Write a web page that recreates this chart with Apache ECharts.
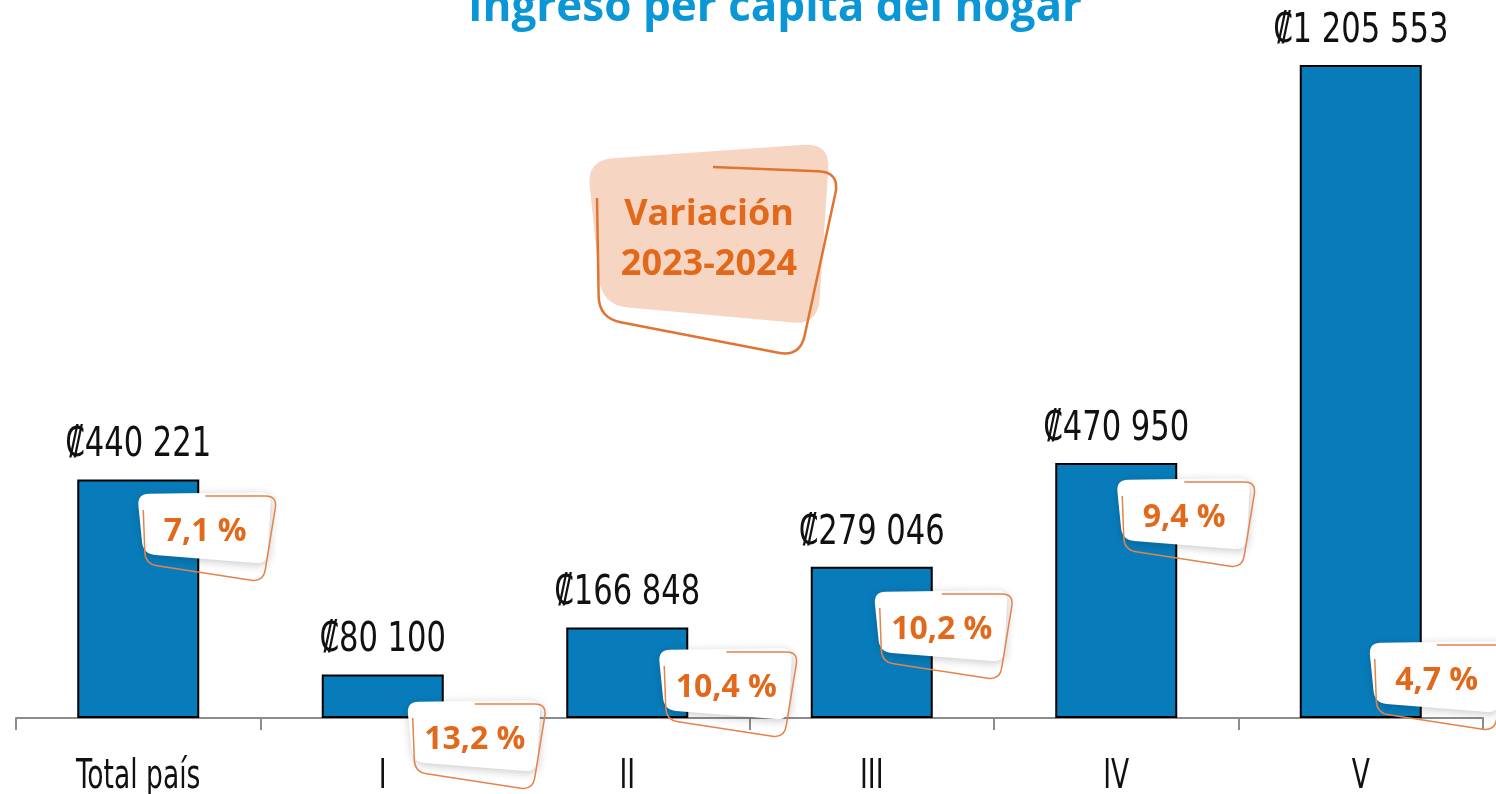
<!DOCTYPE html>
<html>
<head>
<meta charset="utf-8">
<script src="https://cdn.jsdelivr.net/npm/echarts@6/dist/echarts.min.js"></script>
<style>
  html, body { margin: 0; padding: 0; background: #fff; }
  #chart { width: 1496px; height: 794px; }
</style>
</head>
<body>
<div id="chart"></div>
<script>
// 数据
const categories = ['Total país', 'I', 'II', 'III', 'IV', 'V'];
const income = [440221, 80100, 166848, 279046, 470950, 1205553];
const variation = [7.1, 13.2, 10.4, 10.2, 9.4, 4.7];

// badge placement relative to category centre / baseline (px)
const badgeOffset = [[67, 186], [92, -22], [99, 30], [70, 88], [68, 200], [76, 37]];

const condensed = '"DejaVu Sans Condensed", sans-serif';
const orange = '#e2691b';

function fmtMoney(v) {
  return '₡' + String(v).replace(/\B(?=(\d{3})+(?!\d))/g, ' ');
}
function fmtPct(v) {
  return v.toFixed(1).replace('.', ',') + ' %';
}

// rounded corner helpers for the callout shapes
function toward(p, q, r) {
  const dx = q[0] - p[0], dy = q[1] - p[1];
  const len = Math.hypot(dx, dy);
  return [p[0] + dx / len * r, p[1] + dy / len * r];
}
function roundPath(pts, r) {
  const n = pts.length;
  let d = '';
  for (let i = 0; i < n; i++) {
    const p = pts[i], a = pts[(i - 1 + n) % n], b = pts[(i + 1) % n];
    const p1 = toward(p, a, r), p2 = toward(p, b, r);
    d += (i === 0 ? 'M' : 'L') + p1[0] + ' ' + p1[1] + ' Q' + p[0] + ' ' + p[1] + ' ' + p2[0] + ' ' + p2[1] + ' ';
  }
  return d + 'Z';
}
function openPath(start, corners, end, r) {
  const all = [start].concat(corners, [end]);
  let d = 'M' + start[0] + ' ' + start[1] + ' ';
  for (let i = 1; i < all.length - 1; i++) {
    const p = all[i];
    const p1 = toward(p, all[i - 1], r), p2 = toward(p, all[i + 1], r);
    d += 'L' + p1[0] + ' ' + p1[1] + ' Q' + p[0] + ' ' + p[1] + ' ' + p2[0] + ' ' + p2[1] + ' ';
  }
  return d + 'L' + end[0] + ' ' + end[1];
}

const badgeFill = roundPath([[-68, -38], [66, -40], [62, 32], [-62, 22]], 12);
const badgeLine = openPath([-62, -22], [[-60, 32], [58, 50], [72, -36]], [0, -36], 12);

const calloutFill = roundPath([[587, 160], [830, 143], [818, 325], [602, 305]], 26);
const calloutLine = openPath([597, 198], [[599, 318], [800, 357], [840, 172]], [713, 167], 22);

const chart = echarts.init(document.getElementById('chart'));

const option = {
  animation: false,
  backgroundColor: '#fff',
  grid: {
    left: 16,
    right: 13,
    top: 0,
    bottom: 76,
    outerBoundsMode: 'none'
  },
  xAxis: {
    type: 'category',
    data: categories,
    axisLine: { lineStyle: { color: '#8c8c8c', width: 2 } },
    axisTick: { show: true, interval: 0, length: 12, lineStyle: { color: '#8c8c8c', width: 2 } },
    // labels drawn narrower below (condensed look)
    axisLabel: { show: false }
  },
  yAxis: {
    type: 'value',
    min: 0,
    max: 1325500,
    show: false,
    splitLine: { show: false }
  },
  series: [
    {
      type: 'bar',
      data: income,
      barWidth: 122,
      itemStyle: { color: '#087cba', borderColor: '#000', borderWidth: 2 },
      z: 2
    },
    {
      // value labels above bars + category names under the axis
      type: 'custom',
      data: income.map((v, i) => [i, v]),
      encode: { x: 0, y: 1 },
      clip: false,
      z: 4,
      renderItem: function (params, api) {
        const i = api.value(0);
        const top = api.coord([i, api.value(1)]);
        const base = api.coord([i, 0]);
        return {
          type: 'group',
          children: [
            {
              type: 'text',
              x: top[0],
              y: top[1] - 34,
              scaleX: 0.83,
              style: {
                text: fmtMoney(api.value(1)),
                align: 'center',
                verticalAlign: 'middle',
                font: '41px ' + condensed,
                fill: '#111'
              }
            },
            {
              type: 'text',
              x: base[0],
              y: base[1] + 59,
              scaleX: 0.72,
              style: {
                text: categories[i],
                align: 'center',
                verticalAlign: 'middle',
                font: '41px ' + condensed,
                fill: '#111'
              }
            }
          ]
        };
      }
    },
    {
      type: 'custom',
      data: variation.map((v, i) => [i, 0, v]),
      encode: { x: 0, y: 1 },
      clip: false,
      z: 5,
      renderItem: function (params, api) {
        const i = api.value(0);
        const base = api.coord([i, 0]);
        const off = badgeOffset[i];
        return {
          type: 'group',
          x: base[0] + off[0],
          y: base[1] - off[1],
          children: [
            {
              type: 'path',
              shape: { pathData: badgeFill },
              style: {
                fill: '#fff',
                shadowBlur: 10,
                shadowColor: 'rgba(0,0,0,0.22)',
                shadowOffsetX: 1,
                shadowOffsetY: 2
              }
            },
            {
              type: 'path',
              shape: { pathData: badgeLine },
              style: { fill: null, stroke: '#e4834a', lineWidth: 1.5 }
            },
            {
              type: 'text',
              style: {
                text: fmtPct(api.value(2)),
                x: 0,
                y: 0,
                align: 'center',
                verticalAlign: 'middle',
                font: 'bold 32px "Open Sans", sans-serif',
                fill: orange
              }
            }
          ]
        };
      }
    },
    {
      // "Variación 2023-2024" callout
      type: 'custom',
      data: [[0, 0]],
      encode: { x: 0, y: 1 },
      clip: false,
      z: 5,
      renderItem: function () {
        return {
          type: 'group',
          children: [
            { type: 'path', shape: { pathData: calloutFill }, style: { fill: '#f6d6c3' } },
            { type: 'path', shape: { pathData: calloutLine }, style: { fill: null, stroke: '#e07432', lineWidth: 2.5 } },
            {
              type: 'text',
              style: {
                text: 'Variación', x: 709, y: 215,
                font: 'bold 36px "Open Sans", sans-serif',
                fill: orange, align: 'center', verticalAlign: 'middle'
              }
            },
            {
              type: 'text',
              style: {
                text: '2023-2024', x: 709, y: 265,
                font: 'bold 36px "Open Sans", sans-serif',
                fill: orange, align: 'center', verticalAlign: 'middle'
              }
            }
          ]
        };
      }
    }
  ],
  graphic: [
    {
      type: 'text',
      x: 775,
      y: 8,
      style: {
        text: 'Ingreso per cápita del hogar',
        font: 'bold 44px "Open Sans", sans-serif',
        fill: '#0b96d6',
        align: 'center',
        verticalAlign: 'middle'
      }
    }
  ]
};

chart.setOption(option);
</script>
</body>
</html>
